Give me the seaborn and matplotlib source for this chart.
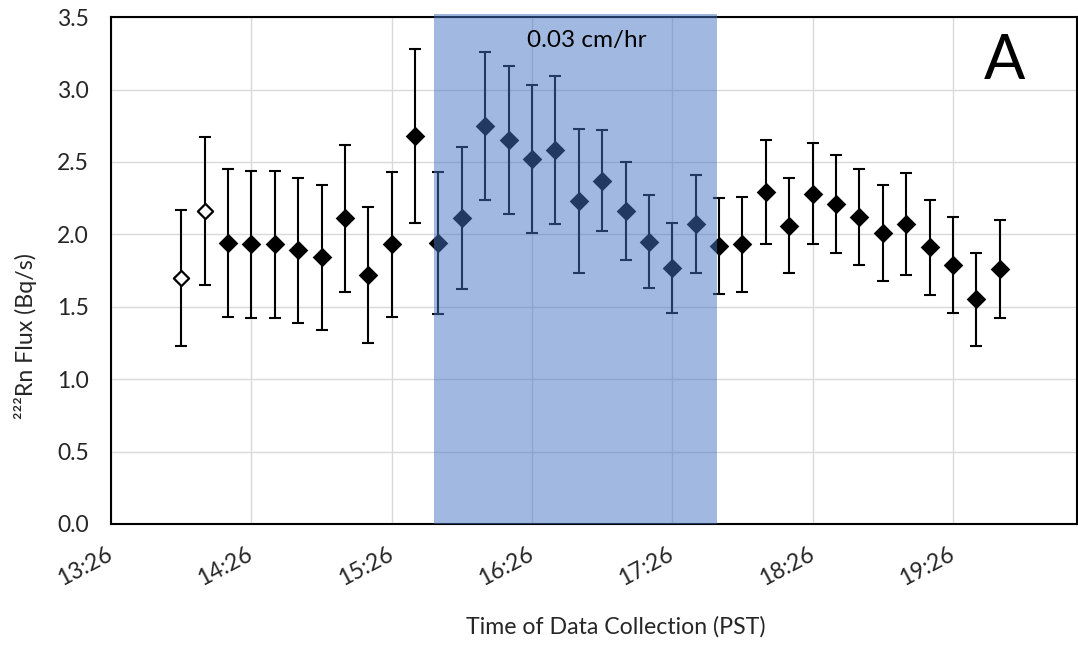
import matplotlib
matplotlib.use("Agg")
import numpy as np
import pandas as pd
import seaborn as sns
import matplotlib.pyplot as plt
from matplotlib.ticker import MultipleLocator

# ---- data ----
times = ["13:56", "14:06", "14:16", "14:26", "14:36", "14:46", "14:56", "15:06",
         "15:16", "15:26", "15:36", "15:46", "15:56", "16:06", "16:16", "16:26",
         "16:36", "16:46", "16:56", "17:06", "17:16", "17:26", "17:36", "17:46",
         "17:56", "18:06", "18:16", "18:26", "18:36", "18:46", "18:56", "19:06",
         "19:16", "19:26", "19:36", "19:46"]
flux = [1.70, 2.16, 1.94, 1.93, 1.93, 1.89, 1.84, 2.11, 1.72, 1.93, 2.68, 1.94,
        2.11, 2.75, 2.65, 2.52, 2.58, 2.23, 2.37, 2.16, 1.95, 1.77, 2.07, 1.92,
        1.93, 2.29, 2.06, 2.28, 2.21, 2.12, 2.01, 2.07, 1.91, 1.79, 1.55, 1.76]
flux_err = [0.47, 0.51, 0.51, 0.51, 0.51, 0.50, 0.50, 0.51, 0.47, 0.50, 0.60, 0.49,
            0.49, 0.51, 0.51, 0.51, 0.51, 0.50, 0.35, 0.34, 0.32, 0.31, 0.34, 0.33,
            0.33, 0.36, 0.33, 0.35, 0.34, 0.33, 0.33, 0.35, 0.33, 0.33, 0.32, 0.34]
open_points = ["13:56", "14:06"]
x_tick_labels = ["13:26", "14:26", "15:26", "16:26", "17:26", "18:26", "19:26"]
y_ticks = [0.0, 0.5, 1.0, 1.5, 2.0, 2.5, 3.0, 3.5]
shade_start, shade_end = "15:44", "17:45"
shade_label = "0.03 cm/hr"
panel_label = "A"
x_min_time, x_max_time = "13:26", "20:19"


def to_hours(t):
    h, m = t.split(":")
    return int(h) + int(m) / 60.0


df = pd.DataFrame({
    "hour": [to_hours(t) for t in times],
    "flux": flux,
    "err": flux_err,
    "kind": ["open" if t in open_points else "filled" for t in times],
})

sns.set_theme(style="white")
plt.rcParams["font.family"] = ["Lato", "DejaVu Sans"]

fig = plt.figure(figsize=(10.78, 6.46), dpi=100)
ax = fig.add_axes([0.103, 0.189, 0.896, 0.7845])

# gridlines
ax.set_axisbelow(True)
ax.grid(True, which="major", color="#D9D9D9", linewidth=1.0)

# error bars
ax.errorbar(df["hour"], df["flux"], yerr=df["err"], fmt="none", ecolor="black",
            elinewidth=1.5, capsize=4.5, capthick=1.5, zorder=3)

# markers
sns.scatterplot(data=df[df["kind"] == "filled"], x="hour", y="flux", marker="D",
                s=100, color="black", edgecolor="black", linewidth=0, ax=ax,
                zorder=4, legend=False)
sns.scatterplot(data=df[df["kind"] == "open"], x="hour", y="flux", marker="D",
                s=60, facecolor="white", edgecolor="black", linewidth=1.6, ax=ax,
                zorder=4, legend=False)

# shaded interval (drawn on top, semi-transparent)
ax.axvspan(to_hours(shade_start), to_hours(shade_end), ymin=0, ymax=1.006,
           color="#4472C4", alpha=0.5, lw=0, zorder=5, clip_on=False)

ax.text(0.4925, 0.9536, shade_label, transform=ax.transAxes, ha="center",
        va="center", fontsize=17.5, color="black", zorder=6)
ax.text(0.925, 0.913, panel_label, transform=ax.transAxes, ha="center",
        va="center", fontsize=44, color="black", zorder=6)

# axes
ax.set_xlim(to_hours(x_min_time), to_hours(x_max_time))
ax.set_ylim(0, 3.5)
ax.set_yticks(y_ticks)
ax.set_yticklabels([f"{v:.1f}" for v in y_ticks])
ax.set_xticks([to_hours(t) for t in x_tick_labels])
ax.set_xticklabels(x_tick_labels)
ax.xaxis.set_minor_locator(MultipleLocator(1 / 6, offset=0.1))

ax.tick_params(axis="y", length=0, pad=16, labelsize=16.5)
ax.tick_params(axis="x", which="both", direction="in", length=4, width=1.2,
               color="black", pad=21, labelsize=16.5)
plt.setp(ax.get_xticklabels(), rotation=28, ha="right", va="center",
         rotation_mode="anchor")

for s in ax.spines.values():
    s.set_visible(True)
    s.set_color("black")
    s.set_linewidth(1.5)

ax.set_xlabel("Time of Data Collection (PST)", fontsize=16.7, va="center")
ax.xaxis.set_label_coords(0.523, -0.203)
ax.set_ylabel("²²²Rn Flux (Bq/s)", fontsize=16.7, va="center")
ax.yaxis.set_label_coords(-0.089, 0.371)

fig.savefig("out.png", dpi=100)
